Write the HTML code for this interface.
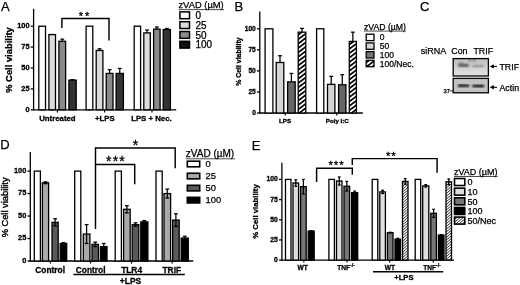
<!DOCTYPE html>
<html><head><meta charset="utf-8"><title>Figure</title>
<style>html,body{margin:0;padding:0;background:#fff}svg{display:block}</style>
</head><body>
<svg width="520" height="285" viewBox="0 0 520 285" font-family="Liberation Sans, Arial, sans-serif">
<defs>
<pattern id="hatchB" width="3.5" height="3.5" patternUnits="userSpaceOnUse" patternTransform="rotate(-37)">
<rect width="3.5" height="3.5" fill="#fff"/><rect width="3.5" height="1.7" fill="#000"/></pattern>
<pattern id="hatchE" width="2.1" height="2.1" patternUnits="userSpaceOnUse" patternTransform="rotate(-40)">
<rect width="2.1" height="2.1" fill="#fff"/><rect width="2.1" height="0.8" fill="#333"/></pattern>
<filter id="bl"><feGaussianBlur stdDeviation="0.8"/></filter><filter id="bl2"><feGaussianBlur stdDeviation="0.8"/></filter>
<linearGradient id="g1" x1="0" y1="0" x2="0" y2="1"><stop offset="0" stop-color="#bdbdbd"/><stop offset="0.45" stop-color="#cfcfcf"/><stop offset="1" stop-color="#e2e2e2"/></linearGradient>
</defs>
<rect width="520" height="285" fill="#fff"/>
<text x="1.10" y="10.50" font-size="13" stroke="#000" stroke-width="0.25" text-anchor="start" fill="#000" >A</text>
<line x1="33.60" y1="8.80" x2="33.60" y2="110.45" stroke="#000" stroke-width="1.3"/>
<line x1="32.95" y1="109.80" x2="176.20" y2="109.80" stroke="#000" stroke-width="1.3"/>
<line x1="30.80" y1="109.80" x2="33.60" y2="109.80" stroke="#000" stroke-width="1.3"/>
<text x="29.60" y="111.86" font-size="7.4" font-weight="bold" stroke="#000" stroke-width="0.3" text-anchor="end" fill="#000" >0</text>
<line x1="30.80" y1="88.90" x2="33.60" y2="88.90" stroke="#000" stroke-width="1.3"/>
<text x="29.60" y="90.96" font-size="7.4" font-weight="bold" stroke="#000" stroke-width="0.3" text-anchor="end" fill="#000" >25</text>
<line x1="30.80" y1="68.00" x2="33.60" y2="68.00" stroke="#000" stroke-width="1.3"/>
<text x="29.60" y="70.06" font-size="7.4" font-weight="bold" stroke="#000" stroke-width="0.3" text-anchor="end" fill="#000" >50</text>
<line x1="30.80" y1="47.10" x2="33.60" y2="47.10" stroke="#000" stroke-width="1.3"/>
<text x="29.60" y="49.16" font-size="7.4" font-weight="bold" stroke="#000" stroke-width="0.3" text-anchor="end" fill="#000" >75</text>
<line x1="30.80" y1="26.20" x2="33.60" y2="26.20" stroke="#000" stroke-width="1.3"/>
<text x="29.60" y="28.26" font-size="7.4" font-weight="bold" stroke="#000" stroke-width="0.3" text-anchor="end" fill="#000" >100</text>
<text transform="translate(12.10,60.00) rotate(-90)" font-size="9.4" font-weight="bold" stroke="#000" stroke-width="0.3" text-anchor="middle" fill="#000">% Cell viability</text>
<rect x="38.80" y="26.20" width="6.70" height="83.60" fill="#fff" stroke="#000" stroke-width="1.3"/>
<rect x="48.90" y="34.56" width="6.60" height="75.24" fill="#dcdcdc" stroke="#000" stroke-width="1.3"/>
<rect x="58.90" y="41.25" width="6.70" height="68.55" fill="#8a8a8a" stroke="#000" stroke-width="1.3"/>
<line x1="62.25" y1="39.16" x2="62.25" y2="41.25" stroke="#000" stroke-width="1.25"/>
<line x1="60.35" y1="39.16" x2="64.15" y2="39.16" stroke="#000" stroke-width="1.25"/>
<rect x="68.90" y="80.12" width="7.30" height="29.68" fill="#333" stroke="#000" stroke-width="1.3"/>
<line x1="72.55" y1="79.62" x2="72.55" y2="80.12" stroke="#000" stroke-width="1.25"/>
<line x1="70.65" y1="79.62" x2="74.45" y2="79.62" stroke="#000" stroke-width="1.25"/>
<rect x="86.10" y="26.20" width="6.70" height="83.60" fill="#fff" stroke="#000" stroke-width="1.3"/>
<rect x="96.20" y="50.44" width="6.70" height="59.36" fill="#dcdcdc" stroke="#000" stroke-width="1.3"/>
<line x1="99.55" y1="48.77" x2="99.55" y2="50.44" stroke="#000" stroke-width="1.25"/>
<line x1="97.65" y1="48.77" x2="101.45" y2="48.77" stroke="#000" stroke-width="1.25"/>
<rect x="106.20" y="73.43" width="6.80" height="36.37" fill="#8a8a8a" stroke="#000" stroke-width="1.3"/>
<line x1="109.60" y1="69.67" x2="109.60" y2="73.43" stroke="#000" stroke-width="1.25"/>
<line x1="107.70" y1="69.67" x2="111.50" y2="69.67" stroke="#000" stroke-width="1.25"/>
<rect x="116.10" y="73.43" width="7.30" height="36.37" fill="#333" stroke="#000" stroke-width="1.3"/>
<line x1="119.75" y1="68.42" x2="119.75" y2="73.43" stroke="#000" stroke-width="1.25"/>
<line x1="117.85" y1="68.42" x2="121.65" y2="68.42" stroke="#000" stroke-width="1.25"/>
<rect x="134.20" y="26.20" width="6.40" height="83.60" fill="#fff" stroke="#000" stroke-width="1.3"/>
<rect x="143.80" y="32.89" width="6.50" height="76.91" fill="#dcdcdc" stroke="#000" stroke-width="1.3"/>
<line x1="147.05" y1="29.96" x2="147.05" y2="32.89" stroke="#000" stroke-width="1.25"/>
<line x1="145.15" y1="29.96" x2="148.95" y2="29.96" stroke="#000" stroke-width="1.25"/>
<rect x="153.60" y="29.13" width="6.50" height="80.67" fill="#8a8a8a" stroke="#000" stroke-width="1.3"/>
<line x1="156.85" y1="27.04" x2="156.85" y2="29.13" stroke="#000" stroke-width="1.25"/>
<line x1="154.95" y1="27.04" x2="158.75" y2="27.04" stroke="#000" stroke-width="1.25"/>
<rect x="163.20" y="29.54" width="7.20" height="80.26" fill="#333" stroke="#000" stroke-width="1.3"/>
<line x1="166.80" y1="28.46" x2="166.80" y2="29.54" stroke="#000" stroke-width="1.25"/>
<line x1="164.90" y1="28.46" x2="168.70" y2="28.46" stroke="#000" stroke-width="1.25"/>
<line x1="57.40" y1="109.80" x2="57.40" y2="112.40" stroke="#000" stroke-width="1.2"/>
<line x1="104.60" y1="109.80" x2="104.60" y2="112.40" stroke="#000" stroke-width="1.2"/>
<line x1="152.00" y1="109.80" x2="152.00" y2="112.40" stroke="#000" stroke-width="1.2"/>
<text x="57.40" y="121.40" font-size="7.8" font-weight="bold" stroke="#000" stroke-width="0.3" text-anchor="middle" fill="#000" >Untreated</text>
<text x="104.80" y="121.40" font-size="7.8" font-weight="bold" stroke="#000" stroke-width="0.3" text-anchor="middle" fill="#000" >+LPS</text>
<text x="151.40" y="121.40" font-size="7.8" font-weight="bold" stroke="#000" stroke-width="0.3" text-anchor="middle" fill="#000" >LPS + Nec.</text>
<polyline points="61.90,28.00 61.90,18.40 109.00,18.40 109.00,40.50" fill="none" stroke="#000" stroke-width="1.45"/>
<text x="84.90" y="19.72" font-size="11" text-anchor="middle" fill="#000" stroke="#000" stroke-width="0.3" letter-spacing="1.8">**</text>
<text x="178.40" y="8.20" font-size="9.4" stroke="#000" stroke-width="0.25" text-anchor="start" fill="#000" >zVAD (µM)</text>
<line x1="178.70" y1="9.60" x2="224.00" y2="9.60" stroke="#000" stroke-width="0.7"/>
<rect x="179.90" y="11.90" width="9.60" height="6.80" fill="#fff" stroke="#000" stroke-width="1.5"/>
<text x="195.40" y="18.90" font-size="10" stroke="#000" stroke-width="0.25" text-anchor="start" fill="#000" >0</text>
<rect x="179.90" y="21.70" width="9.60" height="6.80" fill="#dcdcdc" stroke="#000" stroke-width="1.5"/>
<text x="195.40" y="28.70" font-size="10" stroke="#000" stroke-width="0.25" text-anchor="start" fill="#000" >25</text>
<rect x="179.90" y="31.50" width="9.60" height="6.80" fill="#8a8a8a" stroke="#000" stroke-width="1.5"/>
<text x="195.40" y="38.50" font-size="10" stroke="#000" stroke-width="0.25" text-anchor="start" fill="#000" >50</text>
<rect x="179.90" y="41.30" width="9.60" height="6.80" fill="#111" stroke="#000" stroke-width="1.5"/>
<text x="195.40" y="48.30" font-size="10" stroke="#000" stroke-width="0.25" text-anchor="start" fill="#000" >100</text>
<text x="234.50" y="10.80" font-size="13" stroke="#000" stroke-width="0.25" text-anchor="start" fill="#000" >B</text>
<line x1="259.80" y1="11.60" x2="259.80" y2="113.65" stroke="#000" stroke-width="1.3"/>
<line x1="259.15" y1="113.00" x2="362.80" y2="113.00" stroke="#000" stroke-width="1.3"/>
<line x1="257.00" y1="113.00" x2="259.80" y2="113.00" stroke="#000" stroke-width="1.3"/>
<text x="255.80" y="115.38" font-size="6.6" font-weight="bold" stroke="#000" stroke-width="0.3" text-anchor="end" fill="#000" >0</text>
<line x1="257.00" y1="91.95" x2="259.80" y2="91.95" stroke="#000" stroke-width="1.3"/>
<text x="255.80" y="94.33" font-size="6.6" font-weight="bold" stroke="#000" stroke-width="0.3" text-anchor="end" fill="#000" >25</text>
<line x1="257.00" y1="70.90" x2="259.80" y2="70.90" stroke="#000" stroke-width="1.3"/>
<text x="255.80" y="73.28" font-size="6.6" font-weight="bold" stroke="#000" stroke-width="0.3" text-anchor="end" fill="#000" >50</text>
<line x1="257.00" y1="49.85" x2="259.80" y2="49.85" stroke="#000" stroke-width="1.3"/>
<text x="255.80" y="52.23" font-size="6.6" font-weight="bold" stroke="#000" stroke-width="0.3" text-anchor="end" fill="#000" >75</text>
<line x1="257.00" y1="28.80" x2="259.80" y2="28.80" stroke="#000" stroke-width="1.3"/>
<text x="255.80" y="31.18" font-size="6.6" font-weight="bold" stroke="#000" stroke-width="0.3" text-anchor="end" fill="#000" >100</text>
<text transform="translate(241.00,61.60) rotate(-90)" font-size="6.9" font-weight="bold" stroke="#000" stroke-width="0.3" text-anchor="middle" fill="#000">% Cell viability</text>
<rect x="265.10" y="28.80" width="7.80" height="84.20" fill="#fff" stroke="#000" stroke-width="1.3"/>
<rect x="276.20" y="62.48" width="7.60" height="50.52" fill="#d6d6d6" stroke="#000" stroke-width="1.3"/>
<line x1="280.00" y1="55.74" x2="280.00" y2="62.48" stroke="#000" stroke-width="1.25"/>
<line x1="278.10" y1="55.74" x2="281.90" y2="55.74" stroke="#000" stroke-width="1.25"/>
<rect x="287.60" y="81.85" width="7.60" height="31.15" fill="#666" stroke="#000" stroke-width="1.3"/>
<line x1="291.40" y1="73.43" x2="291.40" y2="81.85" stroke="#000" stroke-width="1.25"/>
<line x1="289.50" y1="73.43" x2="293.30" y2="73.43" stroke="#000" stroke-width="1.25"/>
<rect x="298.20" y="32.17" width="7.60" height="80.83" fill="url(#hatchB)" stroke="#000" stroke-width="1.3"/>
<line x1="302.00" y1="28.38" x2="302.00" y2="32.17" stroke="#000" stroke-width="1.25"/>
<line x1="300.10" y1="28.38" x2="303.90" y2="28.38" stroke="#000" stroke-width="1.25"/>
<rect x="316.60" y="28.80" width="7.20" height="84.20" fill="#fff" stroke="#000" stroke-width="1.3"/>
<rect x="327.50" y="84.37" width="7.40" height="28.63" fill="#d6d6d6" stroke="#000" stroke-width="1.3"/>
<line x1="331.20" y1="76.37" x2="331.20" y2="84.37" stroke="#000" stroke-width="1.25"/>
<line x1="329.30" y1="76.37" x2="333.10" y2="76.37" stroke="#000" stroke-width="1.25"/>
<rect x="338.60" y="84.79" width="7.30" height="28.21" fill="#666" stroke="#000" stroke-width="1.3"/>
<line x1="342.25" y1="74.69" x2="342.25" y2="84.79" stroke="#000" stroke-width="1.25"/>
<line x1="340.35" y1="74.69" x2="344.15" y2="74.69" stroke="#000" stroke-width="1.25"/>
<rect x="349.30" y="41.43" width="7.10" height="71.57" fill="url(#hatchB)" stroke="#000" stroke-width="1.3"/>
<line x1="352.85" y1="32.17" x2="352.85" y2="41.43" stroke="#000" stroke-width="1.25"/>
<line x1="350.95" y1="32.17" x2="354.75" y2="32.17" stroke="#000" stroke-width="1.25"/>
<line x1="285.30" y1="113.00" x2="285.30" y2="115.60" stroke="#000" stroke-width="1.2"/>
<line x1="336.80" y1="113.00" x2="336.80" y2="115.60" stroke="#000" stroke-width="1.2"/>
<text x="285.00" y="122.80" font-size="6.2" font-weight="bold" stroke="#000" stroke-width="0.3" text-anchor="middle" fill="#000" >LPS</text>
<text x="337.30" y="122.80" font-size="6.2" font-weight="bold" stroke="#000" stroke-width="0.3" text-anchor="middle" fill="#000" >Poly I:C</text>
<text x="364.00" y="29.90" font-size="8.7" stroke="#000" stroke-width="0.25" text-anchor="start" fill="#000" >zVAD (µM)</text>
<line x1="364.00" y1="31.10" x2="405.80" y2="31.10" stroke="#000" stroke-width="0.7"/>
<rect x="366.20" y="34.20" width="7.80" height="6.40" fill="#fff" stroke="#000" stroke-width="1.3"/>
<text x="379.80" y="40.40" font-size="8.5" stroke="#000" stroke-width="0.25" text-anchor="start" fill="#000" >0</text>
<rect x="366.20" y="42.90" width="7.80" height="6.40" fill="#d6d6d6" stroke="#000" stroke-width="1.3"/>
<text x="379.80" y="49.10" font-size="8.5" stroke="#000" stroke-width="0.25" text-anchor="start" fill="#000" >50</text>
<rect x="366.20" y="51.60" width="7.80" height="6.40" fill="#777" stroke="#000" stroke-width="1.3"/>
<text x="379.80" y="57.80" font-size="8.5" stroke="#000" stroke-width="0.25" text-anchor="start" fill="#000" >100</text>
<rect x="366.20" y="60.30" width="7.80" height="6.40" fill="url(#hatchB)" stroke="#000" stroke-width="1.3"/>
<text x="379.80" y="66.50" font-size="8.5" stroke="#000" stroke-width="0.25" text-anchor="start" fill="#000" >100/Nec.</text>
<text x="420.10" y="11.10" font-size="13" stroke="#000" stroke-width="0.25" text-anchor="start" fill="#000" >C</text>
<text x="420.80" y="54.40" font-size="9.0" stroke="#000" stroke-width="0.25" text-anchor="start" fill="#000" >siRNA</text>
<text x="451.30" y="54.40" font-size="8.8" stroke="#000" stroke-width="0.25" text-anchor="start" fill="#000" >Con</text>
<text x="473.50" y="54.40" font-size="8.8" stroke="#000" stroke-width="0.25" text-anchor="start" fill="#000" >TRIF</text>
<rect x="453.20" y="58.60" width="35.20" height="17.40" fill="url(#g1)" stroke="#000" stroke-width="1.3"/>
<g filter="url(#bl)">
<rect x="458.2" y="64" width="10.5" height="2.8" fill="#505050"/>
<rect x="459" y="62.6" width="4" height="2" fill="#777"/>
<rect x="472.5" y="65" width="11" height="2.2" fill="#8a8a8a"/>
<rect x="468.8" y="59.2" width="2" height="1.6" fill="#333"/>
<rect x="473.2" y="59.2" width="2" height="1.6" fill="#333"/>
</g>
<rect x="453.20" y="78.40" width="35.20" height="14.40" fill="#c2c2c2" stroke="#000" stroke-width="1.3"/>
<g filter="url(#bl2)">
<rect x="458" y="84.4" width="11" height="2.4" fill="#000"/>
<rect x="472.5" y="84.8" width="11.5" height="2.4" fill="#000"/>
</g>
<line x1="491.80" y1="66.40" x2="497.00" y2="66.40" stroke="#000" stroke-width="1.1"/>
<polygon points="489.80,66.40 493.80,64.20 493.80,68.60" fill="#000"/>
<line x1="491.80" y1="87.30" x2="497.00" y2="87.30" stroke="#000" stroke-width="1.1"/>
<polygon points="489.80,87.30 493.80,85.10 493.80,89.50" fill="#000"/>
<text x="499.50" y="69.60" font-size="8.8" stroke="#000" stroke-width="0.25" text-anchor="start" fill="#000" >TRIF</text>
<text x="499.50" y="90.60" font-size="8.8" stroke="#000" stroke-width="0.25" text-anchor="start" fill="#000" >Actin</text>
<text x="443.60" y="92.70" font-size="5.8" stroke="#000" stroke-width="0.25" text-anchor="start" fill="#000" >37</text>
<line x1="450.00" y1="90.90" x2="453.00" y2="90.90" stroke="#000" stroke-width="0.9"/>
<text x="0.20" y="149.30" font-size="13" stroke="#000" stroke-width="0.25" text-anchor="start" fill="#000" >D</text>
<line x1="30.30" y1="152.00" x2="30.30" y2="261.65" stroke="#000" stroke-width="1.3"/>
<line x1="29.65" y1="261.00" x2="193.30" y2="261.00" stroke="#000" stroke-width="1.3"/>
<line x1="27.50" y1="261.00" x2="30.30" y2="261.00" stroke="#000" stroke-width="1.3"/>
<text x="26.30" y="262.56" font-size="7.4" font-weight="bold" stroke="#000" stroke-width="0.3" text-anchor="end" fill="#000" >0</text>
<line x1="27.50" y1="238.53" x2="30.30" y2="238.53" stroke="#000" stroke-width="1.3"/>
<text x="26.30" y="240.09" font-size="7.4" font-weight="bold" stroke="#000" stroke-width="0.3" text-anchor="end" fill="#000" >25</text>
<line x1="27.50" y1="216.05" x2="30.30" y2="216.05" stroke="#000" stroke-width="1.3"/>
<text x="26.30" y="217.61" font-size="7.4" font-weight="bold" stroke="#000" stroke-width="0.3" text-anchor="end" fill="#000" >50</text>
<line x1="27.50" y1="193.57" x2="30.30" y2="193.57" stroke="#000" stroke-width="1.3"/>
<text x="26.30" y="195.14" font-size="7.4" font-weight="bold" stroke="#000" stroke-width="0.3" text-anchor="end" fill="#000" >75</text>
<line x1="27.50" y1="171.10" x2="30.30" y2="171.10" stroke="#000" stroke-width="1.3"/>
<text x="26.30" y="172.66" font-size="7.4" font-weight="bold" stroke="#000" stroke-width="0.3" text-anchor="end" fill="#000" >100</text>
<text transform="translate(7.70,207.40) rotate(-90)" font-size="9.3" stroke="#000" stroke-width="0.4" text-anchor="middle" fill="#000">% Cell viability</text>
<rect x="34.30" y="171.10" width="6.10" height="89.90" fill="#fff" stroke="#000" stroke-width="1.3"/>
<rect x="42.40" y="182.79" width="6.20" height="78.21" fill="#aaa" stroke="#000" stroke-width="1.3"/>
<line x1="45.50" y1="181.89" x2="45.50" y2="183.69" stroke="#000" stroke-width="1.25"/>
<line x1="43.60" y1="181.89" x2="47.40" y2="181.89" stroke="#000" stroke-width="1.25"/>
<line x1="43.60" y1="183.69" x2="47.40" y2="183.69" stroke="#000" stroke-width="1.25"/>
<rect x="52.00" y="222.34" width="6.20" height="38.66" fill="#5a5a5a" stroke="#000" stroke-width="1.3"/>
<line x1="55.10" y1="218.75" x2="55.10" y2="225.94" stroke="#000" stroke-width="1.25"/>
<line x1="53.20" y1="218.75" x2="57.00" y2="218.75" stroke="#000" stroke-width="1.25"/>
<line x1="53.20" y1="225.94" x2="57.00" y2="225.94" stroke="#000" stroke-width="1.25"/>
<rect x="60.20" y="243.47" width="6.50" height="17.53" fill="#000" stroke="#000" stroke-width="1.3"/>
<line x1="63.45" y1="242.57" x2="63.45" y2="244.37" stroke="#000" stroke-width="1.25"/>
<line x1="61.55" y1="242.57" x2="65.35" y2="242.57" stroke="#000" stroke-width="1.25"/>
<line x1="61.55" y1="244.37" x2="65.35" y2="244.37" stroke="#000" stroke-width="1.25"/>
<rect x="74.70" y="171.10" width="6.10" height="89.90" fill="#fff" stroke="#000" stroke-width="1.3"/>
<rect x="83.30" y="234.03" width="6.60" height="26.97" fill="#aaa" stroke="#000" stroke-width="1.3"/>
<line x1="86.60" y1="224.59" x2="86.60" y2="243.47" stroke="#000" stroke-width="1.25"/>
<line x1="84.70" y1="224.59" x2="88.50" y2="224.59" stroke="#000" stroke-width="1.25"/>
<line x1="84.70" y1="243.47" x2="88.50" y2="243.47" stroke="#000" stroke-width="1.25"/>
<rect x="92.00" y="244.37" width="6.50" height="16.63" fill="#5a5a5a" stroke="#000" stroke-width="1.3"/>
<line x1="95.25" y1="242.12" x2="95.25" y2="246.62" stroke="#000" stroke-width="1.25"/>
<line x1="93.35" y1="242.12" x2="97.15" y2="242.12" stroke="#000" stroke-width="1.25"/>
<line x1="93.35" y1="246.62" x2="97.15" y2="246.62" stroke="#000" stroke-width="1.25"/>
<rect x="100.50" y="246.62" width="6.50" height="14.38" fill="#000" stroke="#000" stroke-width="1.3"/>
<line x1="103.75" y1="243.47" x2="103.75" y2="249.76" stroke="#000" stroke-width="1.25"/>
<line x1="101.85" y1="243.47" x2="105.65" y2="243.47" stroke="#000" stroke-width="1.25"/>
<line x1="101.85" y1="249.76" x2="105.65" y2="249.76" stroke="#000" stroke-width="1.25"/>
<rect x="115.20" y="171.10" width="6.20" height="89.90" fill="#fff" stroke="#000" stroke-width="1.3"/>
<rect x="123.60" y="209.31" width="6.60" height="51.69" fill="#aaa" stroke="#000" stroke-width="1.3"/>
<line x1="126.90" y1="205.71" x2="126.90" y2="212.90" stroke="#000" stroke-width="1.25"/>
<line x1="125.00" y1="205.71" x2="128.80" y2="205.71" stroke="#000" stroke-width="1.25"/>
<line x1="125.00" y1="212.90" x2="128.80" y2="212.90" stroke="#000" stroke-width="1.25"/>
<rect x="132.20" y="224.59" width="6.60" height="36.41" fill="#5a5a5a" stroke="#000" stroke-width="1.3"/>
<line x1="135.50" y1="222.79" x2="135.50" y2="226.39" stroke="#000" stroke-width="1.25"/>
<line x1="133.60" y1="222.79" x2="137.40" y2="222.79" stroke="#000" stroke-width="1.25"/>
<line x1="133.60" y1="226.39" x2="137.40" y2="226.39" stroke="#000" stroke-width="1.25"/>
<rect x="140.80" y="221.89" width="7.10" height="39.11" fill="#000" stroke="#000" stroke-width="1.3"/>
<line x1="144.35" y1="220.55" x2="144.35" y2="223.24" stroke="#000" stroke-width="1.25"/>
<line x1="142.45" y1="220.55" x2="146.25" y2="220.55" stroke="#000" stroke-width="1.25"/>
<line x1="142.45" y1="223.24" x2="146.25" y2="223.24" stroke="#000" stroke-width="1.25"/>
<rect x="156.00" y="171.10" width="6.20" height="89.90" fill="#fff" stroke="#000" stroke-width="1.3"/>
<rect x="164.00" y="193.57" width="6.60" height="67.43" fill="#aaa" stroke="#000" stroke-width="1.3"/>
<line x1="167.30" y1="189.08" x2="167.30" y2="198.07" stroke="#000" stroke-width="1.25"/>
<line x1="165.40" y1="189.08" x2="169.20" y2="189.08" stroke="#000" stroke-width="1.25"/>
<line x1="165.40" y1="198.07" x2="169.20" y2="198.07" stroke="#000" stroke-width="1.25"/>
<rect x="172.60" y="220.10" width="6.60" height="40.90" fill="#5a5a5a" stroke="#000" stroke-width="1.3"/>
<line x1="175.90" y1="213.80" x2="175.90" y2="226.39" stroke="#000" stroke-width="1.25"/>
<line x1="174.00" y1="213.80" x2="177.80" y2="213.80" stroke="#000" stroke-width="1.25"/>
<line x1="174.00" y1="226.39" x2="177.80" y2="226.39" stroke="#000" stroke-width="1.25"/>
<rect x="181.20" y="238.08" width="7.10" height="22.92" fill="#000" stroke="#000" stroke-width="1.3"/>
<line x1="184.75" y1="236.28" x2="184.75" y2="239.87" stroke="#000" stroke-width="1.25"/>
<line x1="182.85" y1="236.28" x2="186.65" y2="236.28" stroke="#000" stroke-width="1.25"/>
<line x1="182.85" y1="239.87" x2="186.65" y2="239.87" stroke="#000" stroke-width="1.25"/>
<line x1="50.40" y1="261.00" x2="50.40" y2="263.60" stroke="#000" stroke-width="1.2"/>
<line x1="90.60" y1="261.00" x2="90.60" y2="263.60" stroke="#000" stroke-width="1.2"/>
<line x1="131.50" y1="261.00" x2="131.50" y2="263.60" stroke="#000" stroke-width="1.2"/>
<line x1="172.10" y1="261.00" x2="172.10" y2="263.60" stroke="#000" stroke-width="1.2"/>
<text x="50.20" y="272.70" font-size="8.4" font-weight="bold" stroke="#000" stroke-width="0.3" text-anchor="middle" fill="#000" >Control</text>
<text x="90.70" y="272.70" font-size="8.4" font-weight="bold" stroke="#000" stroke-width="0.3" text-anchor="middle" fill="#000" >Control</text>
<text x="131.60" y="272.70" font-size="8.4" font-weight="bold" stroke="#000" stroke-width="0.3" text-anchor="middle" fill="#000" >TLR4</text>
<text x="171.80" y="272.70" font-size="8.4" font-weight="bold" stroke="#000" stroke-width="0.3" text-anchor="middle" fill="#000" >TRIF</text>
<line x1="73.40" y1="274.50" x2="184.80" y2="274.50" stroke="#000" stroke-width="1.3"/>
<text x="130.50" y="284.00" font-size="8.5" font-weight="bold" stroke="#000" stroke-width="0.3" text-anchor="middle" fill="#000" >+LPS</text>
<polyline points="95.50,229.00 95.50,148.00 175.20,148.00 175.20,168.30" fill="none" stroke="#000" stroke-width="1.45"/>
<polyline points="95.50,164.50 134.70,164.50 134.70,184.20" fill="none" stroke="#000" stroke-width="1.45"/>
<text x="135.40" y="150.48" font-size="14" text-anchor="middle" fill="#000" stroke="#000" stroke-width="0.3" letter-spacing="0">*</text>
<text x="115.95" y="166.18" font-size="14" text-anchor="middle" fill="#000" stroke="#000" stroke-width="0.3" letter-spacing="1.1">***</text>
<text x="185.80" y="157.30" font-size="10" stroke="#000" stroke-width="0.25" text-anchor="start" fill="#000" >zVAD (µM)</text>
<line x1="185.80" y1="158.80" x2="235.00" y2="158.80" stroke="#000" stroke-width="0.7"/>
<rect x="187.30" y="161.20" width="12.40" height="5.60" fill="#fff" stroke="#000" stroke-width="1.6"/>
<text x="205.50" y="167.30" font-size="9.4" stroke="#000" stroke-width="0.25" text-anchor="start" fill="#000" >0</text>
<rect x="187.30" y="173.25" width="12.40" height="5.60" fill="#aaa" stroke="#000" stroke-width="1.6"/>
<text x="205.50" y="179.35" font-size="9.4" stroke="#000" stroke-width="0.25" text-anchor="start" fill="#000" >25</text>
<rect x="187.30" y="185.30" width="12.40" height="5.60" fill="#5a5a5a" stroke="#000" stroke-width="1.6"/>
<text x="205.50" y="191.40" font-size="9.4" stroke="#000" stroke-width="0.25" text-anchor="start" fill="#000" >50</text>
<rect x="187.30" y="197.35" width="12.40" height="5.60" fill="#000" stroke="#000" stroke-width="1.6"/>
<text x="205.50" y="203.45" font-size="9.4" stroke="#000" stroke-width="0.25" text-anchor="start" fill="#000" >100</text>
<text x="251.80" y="149.50" font-size="13" stroke="#000" stroke-width="0.25" text-anchor="start" fill="#000" >E</text>
<line x1="281.90" y1="162.70" x2="281.90" y2="260.75" stroke="#000" stroke-width="1.3"/>
<line x1="281.25" y1="260.10" x2="454.00" y2="260.10" stroke="#000" stroke-width="1.3"/>
<line x1="279.10" y1="260.10" x2="281.90" y2="260.10" stroke="#000" stroke-width="1.3"/>
<text x="277.90" y="262.05" font-size="6.8" font-weight="bold" stroke="#000" stroke-width="0.3" text-anchor="end" fill="#000" >0</text>
<line x1="279.10" y1="239.93" x2="281.90" y2="239.93" stroke="#000" stroke-width="1.3"/>
<text x="277.90" y="241.87" font-size="6.8" font-weight="bold" stroke="#000" stroke-width="0.3" text-anchor="end" fill="#000" >25</text>
<line x1="279.10" y1="219.75" x2="281.90" y2="219.75" stroke="#000" stroke-width="1.3"/>
<text x="277.90" y="221.70" font-size="6.8" font-weight="bold" stroke="#000" stroke-width="0.3" text-anchor="end" fill="#000" >50</text>
<line x1="279.10" y1="199.58" x2="281.90" y2="199.58" stroke="#000" stroke-width="1.3"/>
<text x="277.90" y="201.52" font-size="6.8" font-weight="bold" stroke="#000" stroke-width="0.3" text-anchor="end" fill="#000" >75</text>
<line x1="279.10" y1="179.40" x2="281.90" y2="179.40" stroke="#000" stroke-width="1.3"/>
<text x="277.90" y="181.35" font-size="6.8" font-weight="bold" stroke="#000" stroke-width="0.3" text-anchor="end" fill="#000" >100</text>
<text transform="translate(258.40,211.50) rotate(-90)" font-size="7.8" font-weight="bold" stroke="#000" stroke-width="0.3" text-anchor="middle" fill="#000">% Cell viability</text>
<rect x="285.50" y="179.40" width="5.50" height="80.70" fill="#fff" stroke="#000" stroke-width="1.3"/>
<rect x="293.00" y="183.03" width="5.60" height="77.07" fill="#dedede" stroke="#000" stroke-width="1.3"/>
<line x1="295.80" y1="179.80" x2="295.80" y2="186.26" stroke="#000" stroke-width="1.25"/>
<line x1="294.40" y1="179.80" x2="297.20" y2="179.80" stroke="#000" stroke-width="1.25"/>
<line x1="294.40" y1="186.26" x2="297.20" y2="186.26" stroke="#000" stroke-width="1.25"/>
<rect x="300.60" y="186.66" width="5.60" height="73.44" fill="#777" stroke="#000" stroke-width="1.3"/>
<line x1="303.40" y1="179.40" x2="303.40" y2="193.93" stroke="#000" stroke-width="1.25"/>
<line x1="302.00" y1="179.40" x2="304.80" y2="179.40" stroke="#000" stroke-width="1.25"/>
<line x1="302.00" y1="193.93" x2="304.80" y2="193.93" stroke="#000" stroke-width="1.25"/>
<rect x="308.20" y="231.05" width="6.00" height="29.05" fill="#000" stroke="#000" stroke-width="1.3"/>
<line x1="311.20" y1="230.64" x2="311.20" y2="231.45" stroke="#000" stroke-width="1.25"/>
<line x1="309.80" y1="230.64" x2="312.60" y2="230.64" stroke="#000" stroke-width="1.25"/>
<line x1="309.80" y1="231.45" x2="312.60" y2="231.45" stroke="#000" stroke-width="1.25"/>
<rect x="328.90" y="179.40" width="5.50" height="80.70" fill="#fff" stroke="#000" stroke-width="1.3"/>
<rect x="336.50" y="181.01" width="5.50" height="79.09" fill="#dedede" stroke="#000" stroke-width="1.3"/>
<line x1="339.25" y1="176.98" x2="339.25" y2="185.05" stroke="#000" stroke-width="1.25"/>
<line x1="337.85" y1="176.98" x2="340.65" y2="176.98" stroke="#000" stroke-width="1.25"/>
<line x1="337.85" y1="185.05" x2="340.65" y2="185.05" stroke="#000" stroke-width="1.25"/>
<rect x="344.00" y="186.26" width="5.60" height="73.84" fill="#777" stroke="#000" stroke-width="1.3"/>
<line x1="346.80" y1="181.42" x2="346.80" y2="191.10" stroke="#000" stroke-width="1.25"/>
<line x1="345.40" y1="181.42" x2="348.20" y2="181.42" stroke="#000" stroke-width="1.25"/>
<line x1="345.40" y1="191.10" x2="348.20" y2="191.10" stroke="#000" stroke-width="1.25"/>
<rect x="351.60" y="192.72" width="6.10" height="67.38" fill="#000" stroke="#000" stroke-width="1.3"/>
<line x1="354.65" y1="191.10" x2="354.65" y2="194.33" stroke="#000" stroke-width="1.25"/>
<line x1="353.25" y1="191.10" x2="356.05" y2="191.10" stroke="#000" stroke-width="1.25"/>
<line x1="353.25" y1="194.33" x2="356.05" y2="194.33" stroke="#000" stroke-width="1.25"/>
<rect x="372.20" y="179.40" width="5.60" height="80.70" fill="#fff" stroke="#000" stroke-width="1.3"/>
<rect x="379.80" y="191.91" width="5.60" height="68.19" fill="#dedede" stroke="#000" stroke-width="1.3"/>
<line x1="382.60" y1="190.29" x2="382.60" y2="193.52" stroke="#000" stroke-width="1.25"/>
<line x1="381.20" y1="190.29" x2="384.00" y2="190.29" stroke="#000" stroke-width="1.25"/>
<line x1="381.20" y1="193.52" x2="384.00" y2="193.52" stroke="#000" stroke-width="1.25"/>
<rect x="387.40" y="232.66" width="5.60" height="27.44" fill="#777" stroke="#000" stroke-width="1.3"/>
<line x1="390.20" y1="232.26" x2="390.20" y2="233.07" stroke="#000" stroke-width="1.25"/>
<line x1="388.80" y1="232.26" x2="391.60" y2="232.26" stroke="#000" stroke-width="1.25"/>
<line x1="388.80" y1="233.07" x2="391.60" y2="233.07" stroke="#000" stroke-width="1.25"/>
<rect x="395.00" y="239.12" width="5.50" height="20.98" fill="#000" stroke="#000" stroke-width="1.3"/>
<line x1="397.75" y1="238.31" x2="397.75" y2="239.93" stroke="#000" stroke-width="1.25"/>
<line x1="396.35" y1="238.31" x2="399.15" y2="238.31" stroke="#000" stroke-width="1.25"/>
<line x1="396.35" y1="239.93" x2="399.15" y2="239.93" stroke="#000" stroke-width="1.25"/>
<rect x="402.50" y="181.42" width="5.50" height="78.68" fill="url(#hatchE)" stroke="#000" stroke-width="1.3"/>
<line x1="405.25" y1="178.59" x2="405.25" y2="184.24" stroke="#000" stroke-width="1.25"/>
<line x1="403.85" y1="178.59" x2="406.65" y2="178.59" stroke="#000" stroke-width="1.25"/>
<line x1="403.85" y1="184.24" x2="406.65" y2="184.24" stroke="#000" stroke-width="1.25"/>
<rect x="415.20" y="179.40" width="5.50" height="80.70" fill="#fff" stroke="#000" stroke-width="1.3"/>
<rect x="422.70" y="185.86" width="6.10" height="74.24" fill="#dedede" stroke="#000" stroke-width="1.3"/>
<line x1="425.75" y1="184.65" x2="425.75" y2="187.07" stroke="#000" stroke-width="1.25"/>
<line x1="424.35" y1="184.65" x2="427.15" y2="184.65" stroke="#000" stroke-width="1.25"/>
<line x1="424.35" y1="187.07" x2="427.15" y2="187.07" stroke="#000" stroke-width="1.25"/>
<rect x="430.80" y="213.29" width="5.60" height="46.81" fill="#777" stroke="#000" stroke-width="1.3"/>
<line x1="433.60" y1="209.26" x2="433.60" y2="217.33" stroke="#000" stroke-width="1.25"/>
<line x1="432.20" y1="209.26" x2="435.00" y2="209.26" stroke="#000" stroke-width="1.25"/>
<line x1="432.20" y1="217.33" x2="435.00" y2="217.33" stroke="#000" stroke-width="1.25"/>
<rect x="438.40" y="235.08" width="5.60" height="25.02" fill="#000" stroke="#000" stroke-width="1.3"/>
<line x1="441.20" y1="234.68" x2="441.20" y2="235.49" stroke="#000" stroke-width="1.25"/>
<line x1="439.80" y1="234.68" x2="442.60" y2="234.68" stroke="#000" stroke-width="1.25"/>
<line x1="439.80" y1="235.49" x2="442.60" y2="235.49" stroke="#000" stroke-width="1.25"/>
<rect x="446.00" y="181.82" width="5.50" height="78.28" fill="url(#hatchE)" stroke="#000" stroke-width="1.3"/>
<line x1="448.75" y1="179.00" x2="448.75" y2="184.65" stroke="#000" stroke-width="1.25"/>
<line x1="447.35" y1="179.00" x2="450.15" y2="179.00" stroke="#000" stroke-width="1.25"/>
<line x1="447.35" y1="184.65" x2="450.15" y2="184.65" stroke="#000" stroke-width="1.25"/>
<line x1="303.80" y1="260.10" x2="303.80" y2="262.40" stroke="#000" stroke-width="1.2"/>
<line x1="347.00" y1="260.10" x2="347.00" y2="262.40" stroke="#000" stroke-width="1.2"/>
<line x1="389.70" y1="260.10" x2="389.70" y2="262.40" stroke="#000" stroke-width="1.2"/>
<line x1="433.30" y1="260.10" x2="433.30" y2="262.40" stroke="#000" stroke-width="1.2"/>
<text x="302.60" y="269.60" font-size="6.6" font-weight="bold" stroke="#000" stroke-width="0.3" text-anchor="middle" fill="#000" >WT</text>
<text x="389.90" y="269.60" font-size="6.6" font-weight="bold" stroke="#000" stroke-width="0.3" text-anchor="middle" fill="#000" >WT</text>
<text x="346.00" y="269.6" font-size="6.6" font-weight="bold" stroke="#000" stroke-width="0.25" text-anchor="middle" fill="#000">TNF<tspan font-size="5" dy="-2.8">-/-</tspan></text>
<text x="432.00" y="269.6" font-size="6.6" font-weight="bold" stroke="#000" stroke-width="0.25" text-anchor="middle" fill="#000">TNF<tspan font-size="5" dy="-2.8">-/-</tspan></text>
<line x1="373.00" y1="271.70" x2="443.20" y2="271.70" stroke="#000" stroke-width="1.5"/>
<text x="403.90" y="280.40" font-size="7.6" font-weight="bold" stroke="#000" stroke-width="0.3" text-anchor="middle" fill="#000" >+LPS</text>
<polyline points="316.60,181.90 316.60,168.20 352.30,168.20 352.30,174.80" fill="none" stroke="#000" stroke-width="1.45"/>
<polyline points="352.30,165.00 352.30,158.60 437.10,158.60 437.10,172.80" fill="none" stroke="#000" stroke-width="1.45"/>
<text x="336.55" y="169.48" font-size="11.5" text-anchor="middle" fill="#000" stroke="#000" stroke-width="0.3" letter-spacing="0.9">***</text>
<text x="391.35" y="160.38" font-size="11.5" text-anchor="middle" fill="#000" stroke="#000" stroke-width="0.3" letter-spacing="0.9">**</text>
<text x="454.00" y="175.10" font-size="9" stroke="#000" stroke-width="0.25" text-anchor="start" fill="#000" >zVAD (µM)</text>
<line x1="454.00" y1="176.50" x2="497.70" y2="176.50" stroke="#000" stroke-width="0.7"/>
<rect x="454.50" y="178.50" width="10.30" height="7.00" fill="#fff" stroke="#000" stroke-width="1.6"/>
<text x="467.40" y="185.20" font-size="9" stroke="#000" stroke-width="0.25" text-anchor="start" fill="#000" >0</text>
<rect x="454.50" y="188.15" width="10.30" height="7.00" fill="#dedede" stroke="#000" stroke-width="1.6"/>
<text x="467.40" y="194.85" font-size="9" stroke="#000" stroke-width="0.25" text-anchor="start" fill="#000" >10</text>
<rect x="454.50" y="197.80" width="10.30" height="7.00" fill="#777" stroke="#000" stroke-width="1.6"/>
<text x="467.40" y="204.50" font-size="9" stroke="#000" stroke-width="0.25" text-anchor="start" fill="#000" >50</text>
<rect x="454.50" y="207.45" width="10.30" height="7.00" fill="#000" stroke="#000" stroke-width="1.6"/>
<text x="467.40" y="214.15" font-size="9" stroke="#000" stroke-width="0.25" text-anchor="start" fill="#000" >100</text>
<rect x="454.50" y="217.10" width="10.30" height="7.00" fill="url(#hatchE)" stroke="#000" stroke-width="1.6"/>
<text x="467.40" y="223.80" font-size="9" stroke="#000" stroke-width="0.25" text-anchor="start" fill="#000" >50/Nec</text>
</svg>
</body></html>
